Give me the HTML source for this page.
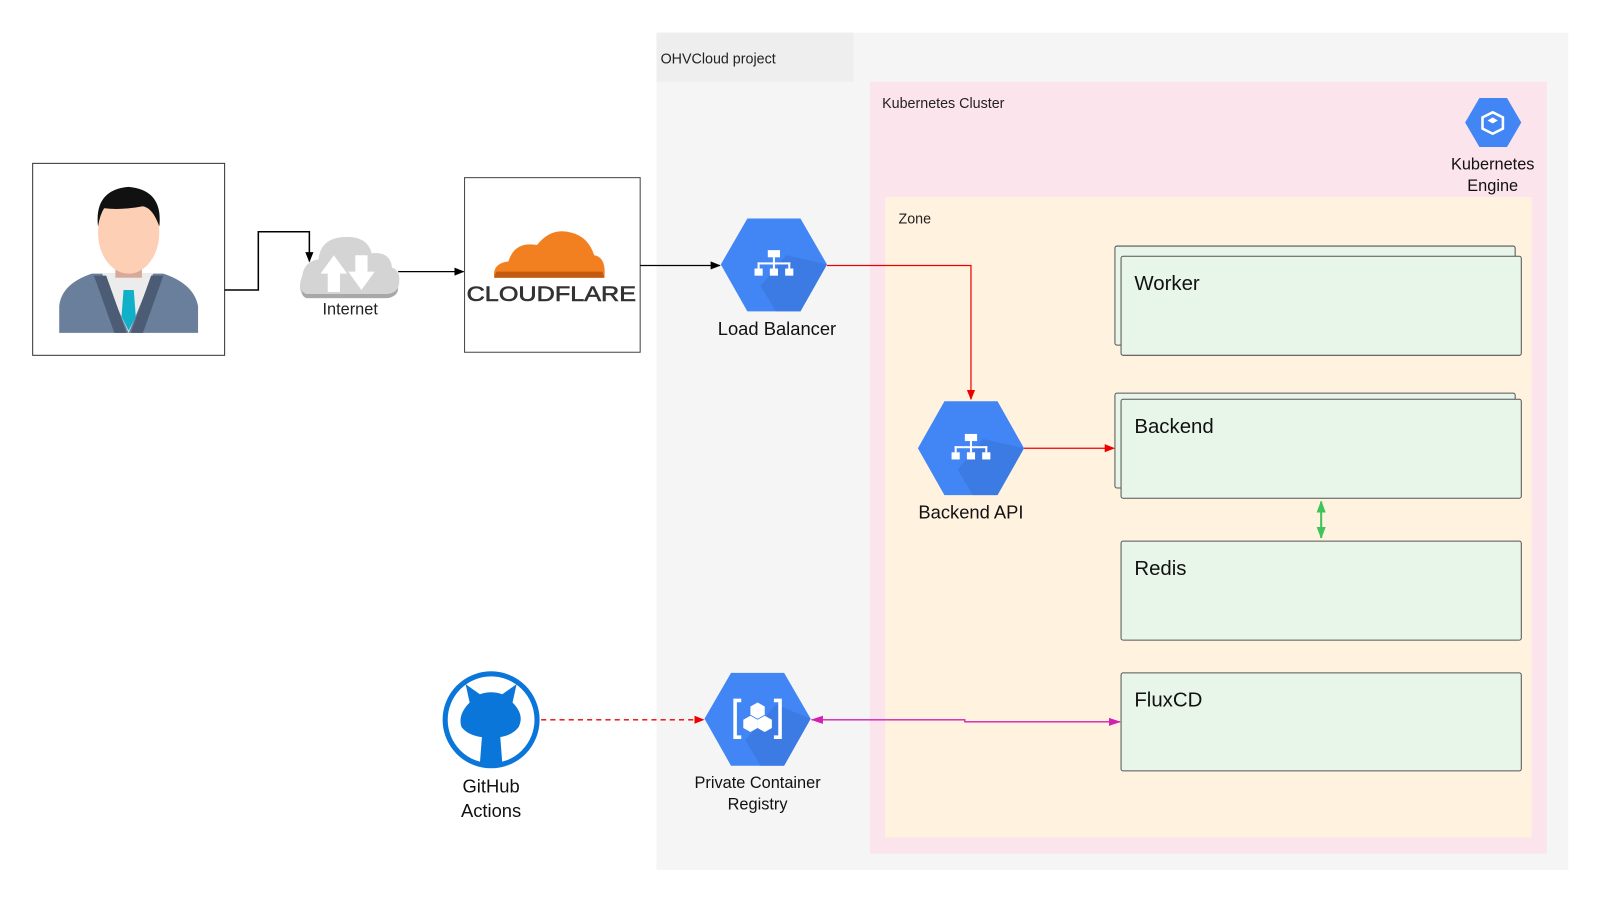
<!DOCTYPE html>
<html><head><meta charset="utf-8"><style>
html,body{margin:0;padding:0;background:#fff;overflow:hidden}
#w{width:1560px;height:880px;transform:scale(1.021,1.021);transform-origin:0 0;position:relative}
svg text{font-family:"Liberation Sans",sans-serif}
</style></head><body><div id="w">
<svg width="1560" height="880" viewBox="0 0 1560 880" xmlns="http://www.w3.org/2000/svg">
<defs>
<marker id="ab" markerWidth="10" markerHeight="10" refX="9" refY="5" orient="auto" markerUnits="userSpaceOnUse"><path d="M0,1 L10,5 L0,9 z" fill="#000"/></marker>
<marker id="ar" markerWidth="10" markerHeight="10" refX="9" refY="5" orient="auto" markerUnits="userSpaceOnUse"><path d="M0,1 L10,5 L0,9 z" fill="#e00"/></marker>
<marker id="am" markerWidth="12" markerHeight="10" refX="11" refY="5" orient="auto-start-reverse" markerUnits="userSpaceOnUse"><path d="M0,1 L12,5 L0,9 z" fill="#d41fb0"/></marker>
<marker id="ag" markerWidth="10" markerHeight="12" refX="11" refY="5" orient="auto-start-reverse" markerUnits="userSpaceOnUse"><path d="M0,0.5 L12,5 L0,9.5 z" fill="#3fc35a"/></marker>
</defs>
<rect x="643" y="32" width="893" height="820" fill="#f5f5f5"/>
<rect x="643" y="32" width="193" height="48" fill="#eeeeee"/>
<text x="647" y="62" font-size="14" fill="#222">OHVCloud project</text>
<rect x="852" y="80" width="663" height="756" fill="#fce4ec"/>
<text x="864" y="106" font-size="14" fill="#222">Kubernetes Cluster</text>
<rect x="867" y="193" width="633" height="627" fill="#fff3e0"/>
<text x="880" y="219" font-size="14" fill="#222">Zone</text>
<g fill="#e8f5e9" stroke="#555" stroke-width="1">
<rect x="1092" y="241" width="392" height="97" rx="2"/>
<rect x="1098" y="251" width="392" height="97" rx="2"/>
<rect x="1092" y="385" width="392" height="93" rx="2"/>
<rect x="1098" y="391" width="392" height="97" rx="2"/>
<rect x="1098" y="530" width="392" height="97" rx="2"/>
<rect x="1098" y="659" width="392" height="96" rx="2"/>
</g>
<g font-size="20" fill="#111">
<text x="1111" y="284">Worker</text>
<text x="1111" y="424">Backend</text>
<text x="1111" y="563">Redis</text>
<text x="1111" y="692">FluxCD</text>
</g>
<line x1="1294" y1="491" x2="1294" y2="527" stroke="#3fc35a" stroke-width="2" marker-start="url(#ag)" marker-end="url(#ag)"/>
<rect x="32" y="160" width="188" height="188" fill="#fff" stroke="#333" stroke-width="1"/>
<path d="M58,326 L58,300 Q60,278 90,268 L160,268 Q190,278 194,300 L194,326 z" fill="#6a7f9c"/>
<path d="M100,268 L126,326 L150,268 z" fill="#ececec"/>
<path d="M92,270 L112,326 L124,326 L104,270 z M160,270 L140,326 L128,326 L148,270 z" fill="#4b5c74"/>
<path d="M121,284 L131,284 L133,310 L126,324 L119,310 z" fill="#10b0c8"/>
<rect x="113" y="250" width="26" height="22" fill="#d8a898"/>
<ellipse cx="126" cy="228" rx="30" ry="40" fill="#fdd0b5"/>
<path d="M96,222 Q92,186 126,183 Q160,186 156,222 Q150,204 140,202 Q120,206 102,204 Q98,210 96,222 z" fill="#111"/>
<path d="M300,292 Q290,286 296,270 Q298,256 312,254 Q314,232 340,232 Q360,232 364,248 Q382,246 384,262 Q394,266 390,282 Q388,292 378,292 z" fill="#d4d4d4"/>
<path d="M300,292 L380,292 Q390,290 390,282 Q386,288 378,288 L300,288 Q294,286 296,280 Q294,290 300,292z" fill="#a8a8a8"/>
<path d="M327,250 L340,268 L333,268 L333,286 L321,286 L321,268 L314,268 z" fill="#fff"/>
<path d="M354,284 L367,266 L360,266 L360,250 L348,250 L348,266 L341,266 z" fill="#fff"/>
<text x="343" y="308" font-size="16" text-anchor="middle" fill="#222">Internet</text>
<polyline points="220,284 253,284 253,227 303,227 303,256" fill="none" stroke="#000" stroke-width="1.5" marker-end="url(#ab)"/>
<line x1="390" y1="266" x2="454" y2="266" stroke="#000" stroke-width="1.2" marker-end="url(#ab)"/>
<rect x="455" y="174" width="172" height="171" fill="#fff" stroke="#444" stroke-width="1"/>
<path d="M484,272 Q482,258 498,256 Q504,236 526,240 Q540,222 560,228 Q576,232 582,250 Q594,252 592,272 z" fill="#f38020"/>
<path d="M484,272 L592,272 L590,266 L486,266 z" fill="#c25a12"/>
<text x="540" y="295" font-size="21" text-anchor="middle" fill="#333" stroke="#333" stroke-width="0.6" textLength="166" lengthAdjust="spacingAndGlyphs">CLOUDFLARE</text>
<line x1="627" y1="260" x2="705" y2="260" stroke="#000" stroke-width="1.2" marker-end="url(#ab)"/>
<g>
<polygon points="706,259 732,214 784,214 810,259 784,305 732,305" fill="#4285f4"/>
<path d="M770,250 L810,259 L784,305 L760,305 L745,280 z" fill="#3a75d8" opacity="0.6"/>
<g fill="#fff"><rect x="752" y="245" width="12" height="7"/><rect x="757" y="252" width="2" height="5"/><rect x="742" y="257" width="32" height="2"/><rect x="742" y="257" width="2" height="6"/><rect x="757" y="257" width="2" height="6"/><rect x="772" y="257" width="2" height="6"/><rect x="739" y="263" width="8" height="7"/><rect x="754" y="263" width="8" height="7"/><rect x="769" y="263" width="8" height="7"/></g>
<text x="761" y="328" font-size="18" text-anchor="middle" fill="#111">Load Balancer</text>
</g>
<polyline points="810,260 951,260 951,391" fill="none" stroke="#e00" stroke-width="1.2" marker-end="url(#ar)"/>
<g>
<polygon points="899,439 925,393 977,393 1003,439 977,485 925,485" fill="#4285f4"/>
<path d="M963,430 L1003,439 L977,485 L953,485 L938,460 z" fill="#3a75d8" opacity="0.6"/>
<g fill="#fff" transform="translate(193,180)"><rect x="752" y="245" width="12" height="7"/><rect x="757" y="252" width="2" height="5"/><rect x="742" y="257" width="32" height="2"/><rect x="742" y="257" width="2" height="6"/><rect x="757" y="257" width="2" height="6"/><rect x="772" y="257" width="2" height="6"/><rect x="739" y="263" width="8" height="7"/><rect x="754" y="263" width="8" height="7"/><rect x="769" y="263" width="8" height="7"/></g>
<text x="951" y="508" font-size="18" text-anchor="middle" fill="#111">Backend API</text>
</g>
<line x1="1003" y1="439" x2="1091" y2="439" stroke="#e00" stroke-width="1.2" marker-end="url(#ar)"/>
<polygon points="1435,120 1449,96 1476,96 1490,120 1476,144 1449,144" fill="#4285f4"/>
<polygon points="1462,110 1472,115 1472,126 1462,131 1452,126 1452,115" fill="none" stroke="#fff" stroke-width="2.5"/>
<polygon points="1462,115 1467,118 1462,121 1457,118" fill="#fff"/>
<text x="1462" y="166" font-size="16" text-anchor="middle" fill="#111">Kubernetes</text>
<text x="1462" y="187" font-size="16" text-anchor="middle" fill="#111">Engine</text>
<circle cx="481" cy="705" r="45" fill="#fff" stroke="#0b76d9" stroke-width="5"/>
<path d="M460,688 L456,670 L470,680 Q481,676 492,680 L506,670 L502,688 Q514,700 508,712 Q502,720 490,722 L492,748 L470,748 L472,722 Q458,720 452,712 Q448,700 460,688 z" fill="#0b76d9"/>
<text x="481" y="776" font-size="18" text-anchor="middle" fill="#111">GitHub</text>
<text x="481" y="800" font-size="18" text-anchor="middle" fill="#111">Actions</text>
<line x1="530" y1="705" x2="689" y2="705" stroke="#e00" stroke-width="1.3" stroke-dasharray="5,4" marker-end="url(#ar)"/>
<polygon points="690,704 716,659 768,659 794,704 768,750 716,750" fill="#4285f4"/>
<path d="M760,690 L794,704 L768,750 L745,750 L730,725 z" fill="#3a75d8" opacity="0.6"/>
<path d="M726,686 L720,686 L720,722 L726,722 M758,686 L764,686 L764,722 L758,722" fill="none" stroke="#fff" stroke-width="3.5"/>
<g fill="#fff"><polygon points="742,688 749,692 749,700 742,704 735,700 735,692"/><polygon points="735,701 742,705 742,713 735,717 728,713 728,705"/><polygon points="749,701 756,705 756,713 749,717 742,713 742,705"/></g>
<text x="742" y="772" font-size="16" text-anchor="middle" fill="#111">Private Container</text>
<text x="742" y="793" font-size="16" text-anchor="middle" fill="#111">Registry</text>
<polyline points="795,705 945,705 945,707 1097,707" fill="none" stroke="#d41fb0" stroke-width="1.3" marker-start="url(#am)" marker-end="url(#am)"/>
</svg>
</div></body></html>
